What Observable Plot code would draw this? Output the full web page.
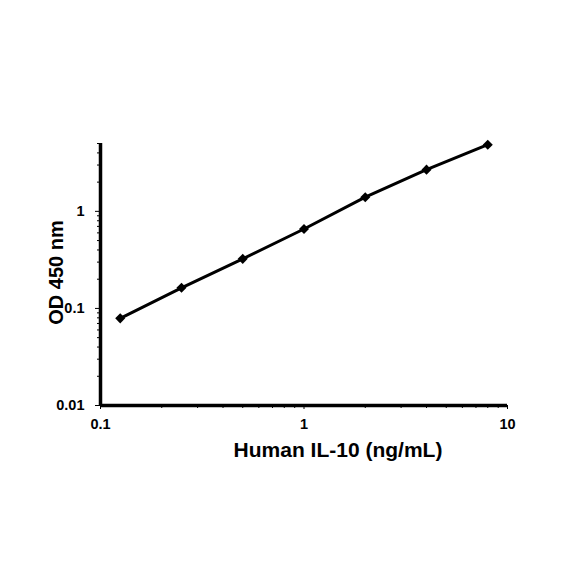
<!DOCTYPE html>
<html><head><meta charset="utf-8">
<script src="https://cdn.jsdelivr.net/npm/d3@7"></script>
<script src="https://cdn.jsdelivr.net/npm/@observablehq/plot@0.6"></script>
<style>body{margin:0;background:#fff}</style>
</head><body><div id="chart"></div>
<script>
const conc = [0.125, 0.25, 0.5, 1, 2, 4, 8];
const od = [0.079, 0.163, 0.324, 0.658, 1.40, 2.69, 4.86];
const xMajor = [0.1, 1, 10];
const xMinor = [0.2,0.3,0.4,0.5,0.6,0.7,0.8,0.9,2,3,4,5,6,7,8,9];
const yMajor = [0.01, 0.1, 1];
const yMinor = [0.02,0.03,0.04,0.05,0.06,0.07,0.08,0.09,0.2,0.3,0.4,0.5,0.6,0.7,0.8,0.9,2,3,4,5];
const xLabel = "Human IL-10 (ng/mL)";
const yLabel = "OD 450 nm";
const data = conc.map((c, i) => ({c, v: od[i]}));

const chart = Plot.plot({
  width: 584, height: 584,
  marginLeft: 100, marginRight: 77, marginTop: 143, marginBottom: 179,
  style: {fontFamily: "Liberation Sans, Arial, sans-serif", fontSize: "14.5px", fontWeight: "bold", color: "#000", background: "#fff"},
  x: {type: "log", domain: [0.1, 10]},
  y: {type: "log", domain: [0.01, 5]},
  marks: [
    Plot.axisX({ticks: xMinor, tickSize: 3, tickWidth: 2, text: null, label: null}),
    Plot.axisX({ticks: xMajor, tickSize: 4, tickWidth: 2, tickFormat: d => String(d), fontSize: 14.5, fontWeight: "bold", tickPadding: 9, label: null}),
    Plot.axisY({ticks: yMinor, tickSize: 3, tickWidth: 2, text: null, label: null}),
    Plot.axisY({ticks: yMajor, tickSize: 5, tickWidth: 2, tickFormat: d => String(d), fontSize: 14.5, fontWeight: "bold", tickPadding: 11, label: null}),
    Plot.ruleX([0.1], {stroke: "#000", strokeWidth: 3.5, y1: 0.01, y2: 5}),
    Plot.ruleY([0.01], {stroke: "#000", strokeWidth: 3.5, x1: 0.1, x2: 10}),
    Plot.line(data, {x: "c", y: "v", stroke: "#000", strokeWidth: 3}),
    Plot.dot(data, {x: "c", y: "v", symbol: "square", rotate: 45, fill: "#000", r: 4}),
    Plot.text([xLabel], {frameAnchor: "bottom", lineAnchor: "middle", textAnchor: "middle", dx: 34, dy: 45, fontSize: 21, fontWeight: "bold", fill: "#000"}),
    Plot.text([yLabel], {frameAnchor: "left", lineAnchor: "middle", textAnchor: "middle", dx: -44, dy: -2, rotate: -90, fontSize: 20, fontWeight: "bold", fill: "#000"})
  ]
});
document.getElementById("chart").append(chart);
</script>
</body></html>
